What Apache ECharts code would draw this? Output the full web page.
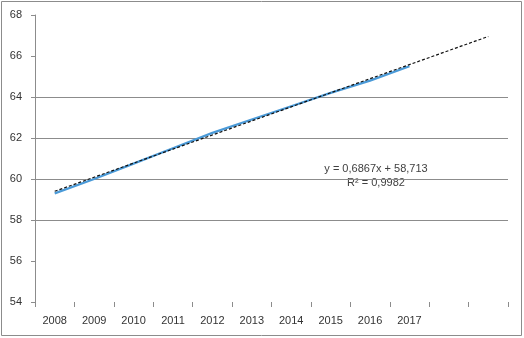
<!DOCTYPE html>
<html>
<head>
<meta charset="utf-8">
<script src="https://cdn.jsdelivr.net/npm/echarts@6/dist/echarts.min.js"></script>
<style>
  html, body { margin: 0; padding: 0; background: #fff; }
  #chart { width: 524px; height: 338px; }
</style>
</head>
<body>
<div id="chart"></div>
<script>
// Years on the category axis; two trailing slots hold the forecast part of the trend
const years = ['2008', '2009', '2010', '2011', '2012', '2013', '2014', '2015', '2016', '2017', '', ''];
// Observed values per year
const values = [59.3, 60.0, 60.75, 61.5, 62.25, 62.9, 63.55, 64.2, 64.8, 65.5];
// Linear trend coefficients (x = 1 for the first year)
const slope = 0.6867;
const intercept = 58.713;
const rSquared = '0,9982';
// Value axis ticks
const yTicks = [54, 56, 58, 60, 62, 64, 66, 68];

const trend = years.map((_, i) => +(slope * (i + 1) + intercept).toFixed(4));
const fmt = n => String(n).replace('.', ',');
const eqText = 'y = ' + fmt(slope) + 'x + ' + fmt(intercept) + '\nR² = ' + rSquared;

const chart = echarts.init(document.getElementById('chart'), null, { renderer: 'canvas' });
chart.setOption({
  animation: false,
  backgroundColor: '#fff',
  textStyle: { fontFamily: 'Liberation Sans, Arial, sans-serif' },
  grid: { left: 35, right: 16, top: 15, bottom: 36, containLabel: false },
  graphic: [{
    type: 'rect',
    shape: { x: 1.5, y: 1.5, width: 520, height: 334 },
    style: { fill: null, stroke: '#8c8c8c', lineWidth: 1 },
    silent: true
  }, {
    type: 'text',
    x: 376, y: 162,
    style: {
      text: eqText, fill: '#404040', font: '11px Liberation Sans, Arial, sans-serif',
      align: 'center', verticalAlign: 'top', lineHeight: 14
    },
    silent: true
  }],
  xAxis: {
    type: 'category',
    data: years,
    boundaryGap: true,
    axisLine: { show: false },
    axisTick: { show: true, length: 5, alignWithLabel: false, lineStyle: { color: '#8c8c8c' } },
    axisLabel: { color: '#333', fontSize: 11, margin: 13, interval: 0 },
    splitLine: { show: false }
  },
  yAxis: {
    type: 'value',
    min: yTicks[0],
    max: yTicks[yTicks.length - 1],
    interval: 2,
    axisLine: { show: true, lineStyle: { color: '#8c8c8c' } },
    axisTick: { show: true, length: 4, lineStyle: { color: '#8c8c8c' } },
    axisLabel: { color: '#333', fontSize: 11, margin: 13 },
    splitLine: {
      show: true,
      lineStyle: {
        color: ['rgba(0,0,0,0)', 'rgba(0,0,0,0)', '#8c8c8c', '#8c8c8c', '#8c8c8c', '#8c8c8c', 'rgba(0,0,0,0)', 'rgba(0,0,0,0)'],
        width: 1
      }
    }
  },
  series: [{
    name: 'values',
    type: 'line',
    data: values,
    symbol: 'none',
    smooth: false,
    lineStyle: { color: '#4a9ad8', width: 2.2 },
    z: 2
  }, {
    name: 'trend',
    type: 'line',
    data: trend,
    symbol: 'none',
    lineStyle: { color: '#111', width: 1.2, type: [3, 2] },
    z: 3
  }]
});
</script>
</body>
</html>
